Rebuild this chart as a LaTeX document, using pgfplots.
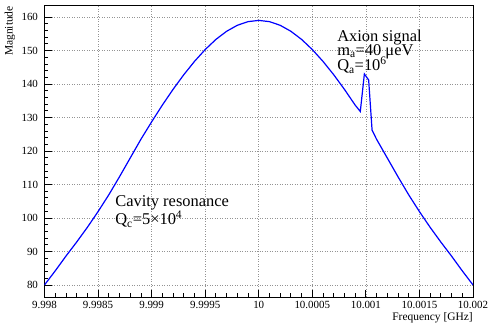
\documentclass[border=0pt]{standalone}
\usepackage{pgfplots}
\pgfplotsset{compat=1.18}
\usepackage{fontspec}
\setmainfont{Liberation Serif}

% Frequency is stored as the offset from 10 GHz in MHz, so that the
% 0.004 GHz window keeps full precision; tick labels show the absolute value.
\pgfplotstableread{
df     mag
-2.0   80.0
-1.9   84.2
-1.8   88.6
-1.7   92.8
-1.6   97.2
-1.5   101.9
-1.4   106.9
-1.3   112.3
-1.2   117.9
-1.1   123.5
-1.0   128.7
-0.9   133.7
-0.8   138.4
-0.7   142.77
-0.6   146.75
-0.5   150.29
-0.4   153.32
-0.3   155.75
-0.2   157.54
-0.1   158.63
 0.0   159.0
 0.1   158.63
 0.2   157.54
 0.3   155.75
 0.4   153.32
 0.5   150.29
 0.6   146.75
 0.7   142.77
 0.8   138.4
 0.9   133.7
 0.948 131.8
 0.986 143.0
 1.026 141.2
 1.058 126.2
 1.1   123.5
 1.2   117.9
 1.3   112.3
 1.4   106.9
 1.5   101.9
 1.6   97.2
 1.7   92.8
 1.8   88.6
 1.9   84.2
 2.0   80.0
}\spectrum

\newcommand{\annot}{\fontsize{16.5}{19}\selectfont}

\begin{document}
\begin{tikzpicture}
\useasboundingbox (-44.5bp,-26bp) rectangle (444.5bp,297bp);
\begin{axis}[
  at={(0,0)}, anchor=south west,
  scale only axis,
  width=428.5bp, height=291bp,
  xmin=-2, xmax=2,
  ymin=76.4, ymax=163.3,
  xtick={-2,-1.5,...,2},
  xticklabels={9.998,9.9985,9.999,9.9995,10,10.0005,10.001,10.0015,10.002},
  ytick={80,90,...,160},
  minor x tick num=4,
  minor y tick num=4,
  tick align=inside,
  xtick pos=lower, ytick pos=left,
  major tick length=7bp,
  minor tick length=3.5bp,
  tick style={black, line width=0.8bp},
  axis line style={black, line width=1bp},
  grid=major,
  major grid style={gray!85, line width=0.6bp, dash pattern=on 0.9bp off 1.6bp},
  /pgf/number format/assume math mode=true,
  ticklabel style={font=\fontsize{11}{12}\selectfont},
  xticklabel style={yshift=-1bp},
  yticklabel style={xshift=-3bp},
  clip mode=individual,
]
\addplot[blue, line width=1.2bp] table[x=df, y=mag] {\spectrum};

\node[anchor=base west, font=\annot, inner sep=0]
  at (axis cs:-1.341,103.4) {Cavity resonance};
\node[anchor=base west, font=\annot, inner sep=0]
  at (axis cs:-1.341,98.0) {Q\textsubscript{c}=5×10\textsuperscript{4}};

\node[anchor=base west, font=\annot, inner sep=0]
  at (axis cs:0.731,152.8) {Axion signal};
\node[anchor=base west, font=\annot, inner sep=0]
  at (axis cs:0.731,148.6) {m\textsubscript{a}=40 μeV};
\node[anchor=base west, font=\annot, inner sep=0]
  at (axis cs:0.731,143.9) {Q\textsubscript{a}=10\textsuperscript{6}};

\node[rotate=90, anchor=east, font=\fontsize{11.5}{13}\selectfont, inner sep=0]
  at (axis description cs:-0.0805,1) {Magnitude};
\node[anchor=base east, font=\fontsize{11.5}{13}\selectfont, inner sep=0]
  at ([yshift=-23bp]axis description cs:1,0) {Frequency [GHz]};
\end{axis}
\end{tikzpicture}
\end{document}
